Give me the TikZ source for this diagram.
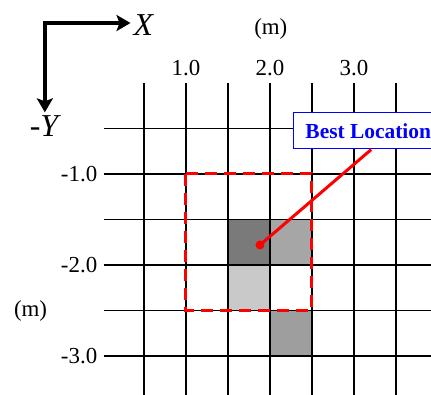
\documentclass[tikz,border=0pt]{standalone}
\usepackage{fontspec}
\setmainfont{Liberation Serif}
\usepackage{tikz}
\usetikzlibrary{
  arrows.meta,%
  calc,%
  positioning
}
\definecolor{celldark}{gray}{0.48}
\definecolor{cellmid}{gray}{0.65}
\definecolor{celllight}{gray}{0.79}
\definecolor{celllow}{gray}{0.62}
\tikzset{>={Stealth[length=14bp,width=16bp,inset=3bp]}}
\tikzset{gridline/.style={line width=1.5bp, black}}
\tikzset{searchbox/.style={red, line width=3bp, dash pattern=on 12bp off 7bp}}
\tikzset{ticklabel/.style={font=\fontsize{23}{27}\selectfont, inner sep=2bp}}
\tikzset{axislabel/.style={font=\fontsize{32}{36}\selectfont\itshape, inner sep=3bp}}
\tikzset{bestbox/.style={draw=blue, fill=white, line width=1bp, text=blue,
    font=\fontsize{21.5}{26}\selectfont\bfseries, inner xsep=12bp, inner ysep=10.5bp}}

\begin{document}
\begin{tikzpicture}[x=84bp, y=91bp]
  \useasboundingbox (-1.214,-3.418) rectangle (3.917,0.912);%
  % shaded cells
  \fill[celldark] (1.5,-1.5) rectangle (2.0,-2.0);%
  \fill[cellmid] (2.0,-1.5) rectangle (2.5,-2.0);%
  \fill[celllight] (1.5,-2.0) rectangle (2.0,-2.5);%
  \fill[celllow] (2.0,-2.5) rectangle (2.5,-3.0);%
  % grid every 0.5 m
  \foreach \gx in {0.5,1.0,...,3.5}
    \draw[gridline] (\gx,0) -- (\gx,-3.45);%
  \foreach \gy in {-0.5,-1.0,...,-3.0}
    \draw[gridline] (0.02,\gy) -- (3.95,\gy);%
  % scale labels
  \foreach \t in {1,2,3} {
    \node[ticklabel] (xt\t) at (\t,0.16) {\t.0};%
    \node[ticklabel, anchor=east] (yt\t) at (-0.03,-\t) {-\t.0};%
  }
  \node[ticklabel] (xunit) at (2.01,0.59) {(m)};%
  \node[ticklabel] (yunit) at (-0.85,-2.505) {(m)};%
  % search area
  \draw[searchbox] (1.0,-1.0) rectangle (2.5,-2.5);%
  \node[bestbox, anchor=west] (best) at (2.274,-0.527) {Best Location};%
  \coordinate (spot) at (1.881,-1.78);%
  \draw[red, line width=3bp] (spot) -- ([xshift=3bp]best.south);%
  \fill[red] (spot) circle (4.5bp);%
  % axes
  \coordinate (orig) at (-0.68,0.659);%
  \node[axislabel, anchor=west] (xlab) at (0.34,0.632) {X};%
  \node[axislabel] (ylab) at (-0.69,-0.4725) {-Y};%
  \draw[<->, line width=4bp] (orig -| xlab.west) -- (orig) -- (orig |- ylab.north);%
\end{tikzpicture}
\end{document}
